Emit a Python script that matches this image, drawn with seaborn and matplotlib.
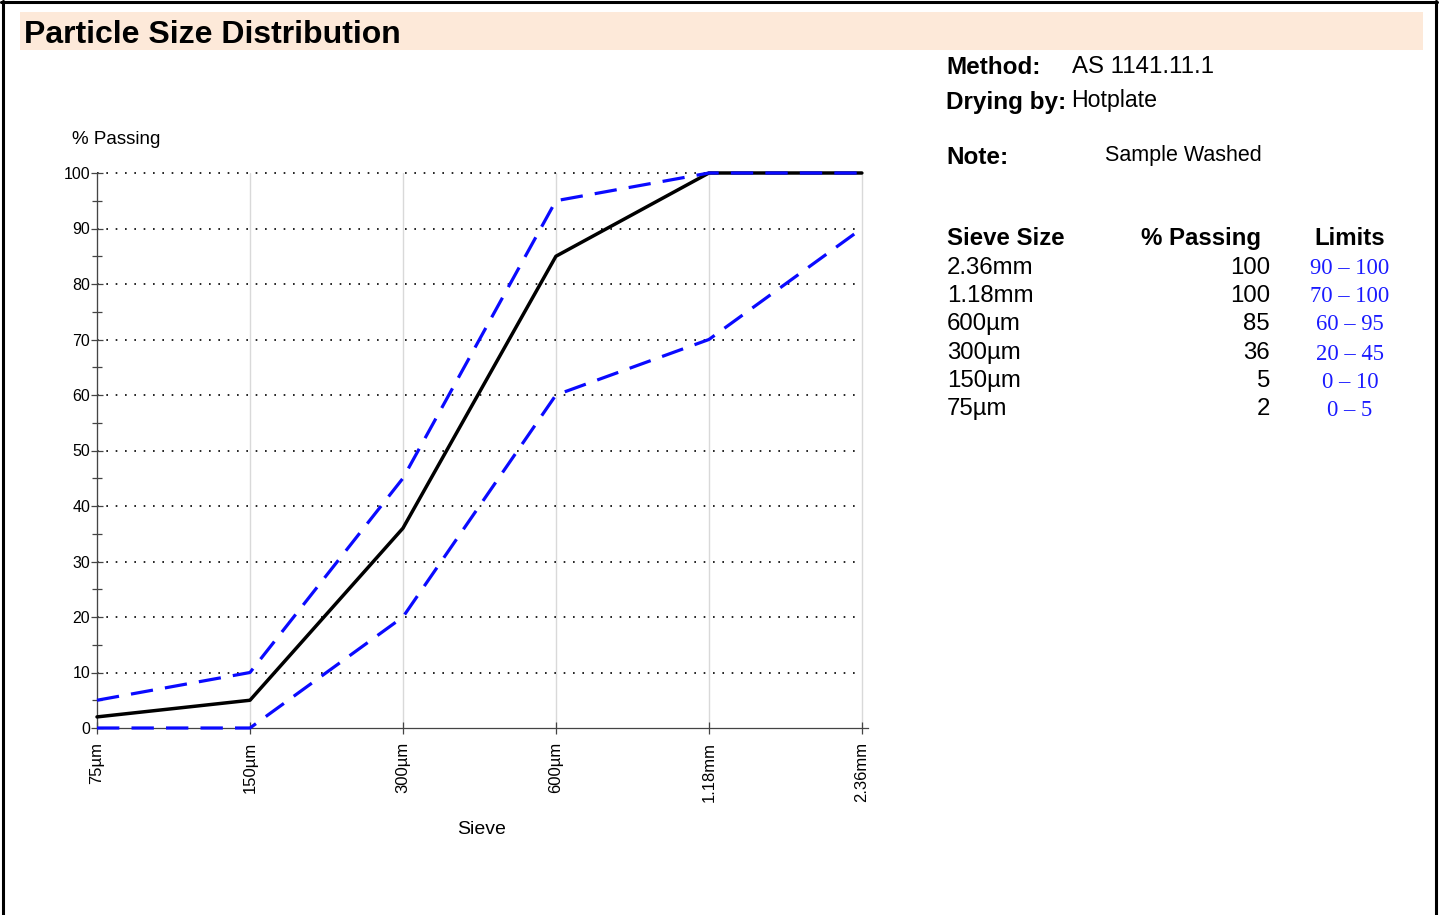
import matplotlib
matplotlib.use("Agg")
import matplotlib.pyplot as plt
import seaborn as sns
import pandas as pd
from matplotlib.lines import Line2D
from matplotlib.patches import Rectangle

# ---- data ----
sieves = ["75µm", "150µm", "300µm", "600µm", "1.18mm", "2.36mm"]
passing = [2, 5, 36, 85, 100, 100]
lower_limit = [0, 0, 20, 60, 70, 90]
upper_limit = [5, 10, 45, 95, 100, 100]
y_ticks = [0, 10, 20, 30, 40, 50, 60, 70, 80, 90, 100]

table_sieves = ["2.36mm", "1.18mm", "600µm", "300µm", "150µm", "75µm"]
table_passing = ["100", "100", "85", "36", "5", "2"]
table_limits = ["90 – 100", "70 – 100", "60 – 95", "20 – 45", "0 – 10", "0 – 5"]

sns.set_style("white")
plt.rcParams["font.family"] = ["Liberation Sans", "DejaVu Sans"]
plt.rcParams["text.color"] = "black"
plt.rcParams["axes.labelcolor"] = "black"
plt.rcParams["xtick.color"] = "black"
plt.rcParams["ytick.color"] = "black"

W, H = 1440, 915
fig = plt.figure(figsize=(14.4, 9.15), dpi=100)

def fx(px):
    return px / W

def fy(py):
    return 1 - py / H

# frame border
fig.add_artist(Line2D([fx(2.5), fx(2.5)], [0, fy(1)], color="black", lw=2.2))
fig.add_artist(Line2D([fx(1), fx(1437)], [fy(1.5), fy(1.5)], color="black", lw=2.2))
fig.add_artist(Line2D([fx(1436), fx(1436)], [0, fy(1)], color="black", lw=2.2))

# title band
fig.add_artist(Rectangle((fx(20), fy(50)), fx(1423) - fx(20), fy(12) - fy(50),
                         transform=fig.transFigure, facecolor="#fde9d9", edgecolor="none"))
fig.text(fx(24), fy(43), "Particle Size Distribution", fontsize=23, fontweight="bold",
         va="baseline", ha="left")

# axes
ax = fig.add_axes([fx(97), fy(728), fx(868) - fx(97), fy(173) - fy(728)])
x = list(range(len(sieves)))
df = pd.DataFrame({"pos": x, "passing": passing, "lower": lower_limit, "upper": upper_limit})

for xi in x:
    ax.axvline(xi, color="#d9d9d9", lw=1.0, zorder=0)
for yv in y_ticks[1:]:
    ax.plot([0, 5], [yv, yv], color="black", lw=1.2, linestyle=(0, (1, 4.6)), zorder=0.5)

sns.lineplot(data=df, x="pos", y="passing", ax=ax, color="black", lw=2.5, zorder=3)
sns.lineplot(data=df, x="pos", y="lower", ax=ax, color="#0a0aff", lw=2.3,
             dashes=False, zorder=4).lines[-1].set_dashes([7, 3.8])
sns.lineplot(data=df, x="pos", y="upper", ax=ax, color="#0a0aff", lw=2.3,
             dashes=False, zorder=4).lines[-1].set_dashes([7, 3.8])

ax.set_xlim(0, 5.04)
ax.set_ylim(0, 100)
ax.set_xticks(x)
ax.set_xticklabels(sieves, rotation=90, fontsize=12)
ax.set_yticks(y_ticks)
ax.set_yticklabels([str(v) for v in y_ticks], fontsize=11.5)
ax.set_yticks(range(5, 100, 10), minor=True)
ax.tick_params(axis="both", which="both", direction="inout", length=8, width=0.9,
               color="#444444", bottom=True, left=True)
ax.tick_params(axis="y", which="minor", length=7)
ax.tick_params(axis="y", which="major", pad=1)
ax.tick_params(axis="x", pad=6)
for s in ["top", "right"]:
    ax.spines[s].set_visible(False)
ax.spines["left"].set_color("#444444")
ax.spines["bottom"].set_color("#444444")
ax.spines["left"].set_linewidth(0.9)
ax.spines["bottom"].set_linewidth(0.9)
ax.set_xlabel("")
ax.set_ylabel("")
ax.patch.set_alpha(0)
for ln in ax.lines:
    ln.set_clip_on(False)

fig.text(fx(72), fy(139), "% Passing", fontsize=13.5, va="center", ha="left")
fig.text(fx(482), fy(830), "Sieve", fontsize=14, va="center", ha="center")

# info block
fig.text(fx(946), fy(67), "Method:", fontsize=17.5, fontweight="bold", va="center")
fig.text(fx(1072), fy(67), "AS 1141.11.1", fontsize=17.3, va="center")
fig.text(fx(946), fy(102), "Drying by:", fontsize=17.5, fontweight="bold", va="center")
fig.text(fx(1071), fy(101), "Hotplate", fontsize=16.7, va="center")
fig.text(fx(946), fy(157), "Note:", fontsize=17.5, fontweight="bold", va="center")
fig.text(fx(1105), fy(155), "Sample Washed", fontsize=15.5, va="center")

# table
fig.text(fx(947), fy(239), "Sieve Size", fontsize=17.3, fontweight="bold", va="center")
fig.text(fx(1261), fy(239), "% Passing", fontsize=17.3, fontweight="bold", va="center", ha="right")
fig.text(fx(1350), fy(239), "Limits", fontsize=17.3, fontweight="bold", va="center", ha="center")
row_y = [268, 296, 324, 353, 381, 409]
for ry, s, p, l in zip(row_y, table_sieves, table_passing, table_limits):
    fig.text(fx(947), fy(ry), s, fontsize=17.3, va="center")
    fig.text(fx(1270), fy(ry), p, fontsize=17.3, va="center", ha="right")
    fig.text(fx(1350), fy(ry + 1), l, fontsize=16.3, va="center", ha="center",
             color="#1a1aff", family=["Liberation Serif", "DejaVu Serif"])

fig.savefig("out.png", dpi=100)
